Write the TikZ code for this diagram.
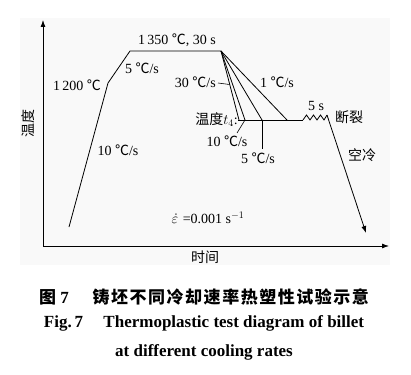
\documentclass[tikz,border=0pt]{standalone}
\usepackage{fontspec}
\setmainfont{Liberation Serif}
\newfontfamily\cjk{Noto Sans CJK SC}
\newfontfamily\cjkcap[LetterSpace=9]{Noto Sans CJK SC}
\usetikzlibrary{arrows.meta}
\newcommand\mydc{{\cjk ℃}}
\begin{document}
\begin{tikzpicture}[x=1pt,y=-1pt,
  lab/.style={font=\fontsize{14}{16}\selectfont, inner sep=0pt},
  captxt/.style={font=\fontsize{17}{19}\selectfont\bfseries, inner sep=0pt},
  ln/.style={line width=0.8pt},
  arr/.style={ln,-{Latex[length=7pt,width=5pt]}}]
\useasboundingbox (0,0) rectangle (411,374);
\fill[gray!5] (20,18) rectangle (390,265);
% axes
\coordinate (O) at (43,246);
\coordinate (Ytop) at (43,20);
\coordinate (Xend) at (389,246);
\draw[arr] (O) -- (Ytop);
\draw[arr] (O) -- (Xend);
% heating curve
\coordinate (A) at (69,227);
\coordinate (B) at (108,83);
\coordinate (C) at (130,51);
\coordinate (D) at (221,51);
\coordinate (E30) at (239,120);
\coordinate (E10) at (245,120);
\coordinate (E5) at (262,120);
\coordinate (E1) at (287,120);
\coordinate (H0) at (238,120);
\coordinate (H1) at (303,120);
\coordinate (Z) at (327,115);
\coordinate (F) at (366,233);
\draw[ln] (A) -- (B) -- (C) -- (D);
\draw[ln] (D) -- (E30);
\draw[ln] (D) -- (E10);
\draw[ln] (D) -- (E5);
\draw[ln] (D) -- (E1);
\draw[ln] (H0) -- (H1);
\draw[ln] (H1) -- ++(3.5,-5) -- ++(3.5,5) -- ++(3.5,-5) -- ++(3.5,5) -- ++(3.5,-5) -- ++(3.5,5) -- (Z);
\draw[arr] (Z) -- (F);
% leaders
\coordinate (L30a) at (218,83);
\coordinate (L30b) at (229.5,84.5);
\coordinate (L10a) at (237,133);
\coordinate (L5b) at (262,149);
\draw[line width=0.6pt] (L30a) -- (L30b);
\draw[line width=0.6pt] (L10a) -- (E10);
\draw[line width=0.6pt] (E5) -- (L5b);
% labels
\node[lab] (t1350) at (177,40) {1\,350 \mydc, 30 s};
\node[lab] (r5a) at (142,68) {5 \mydc/s};
\node[lab] (t1200) at (77,85) {1\,200 \mydc};
\node[lab] (r10a) at (118,150) {10 \mydc/s};
\node[lab,anchor=east] (r30) at (216,82) {30 \mydc/s};
\node[lab] (r1) at (277,82) {1 \mydc/s};
\node[lab,anchor=east] (t4) at (238,120) {{\cjk 温度}$t_4$:};
\node[lab] (r10b) at (227,141) {10 \mydc/s};
\node[lab] (r5b) at (258,158) {5 \mydc/s};
\node[lab] (s5) at (316,106) {5 s};
\node[lab] (dl) at (349,117) {\cjk 断裂};
\node[lab] (kl) at (362,155) {\cjk 空冷};
\node[lab] (eps) at (208,218) {$\dot{\varepsilon}$\,\,=0.001 s$^{-1}$};
\node[lab,rotate=90] (ylab) at (28,123) {\cjk 温度};
\node[lab] (xlab) at (205,257) {\cjk 时间};
% caption
\node[captxt] (c1) at (204,297) {{\cjkcap\bfseries 图} 7\hspace{1.4em}{\cjkcap\bfseries 铸坯不同冷却速率热塑性试验示意}};
\node[captxt] (c2) at (204,323) {Fig.\,7\hspace{1.2em}Thermoplastic test diagram of billet};
\node[captxt] (c3) at (204,352) {at different cooling rates};
\end{tikzpicture}
\end{document}
